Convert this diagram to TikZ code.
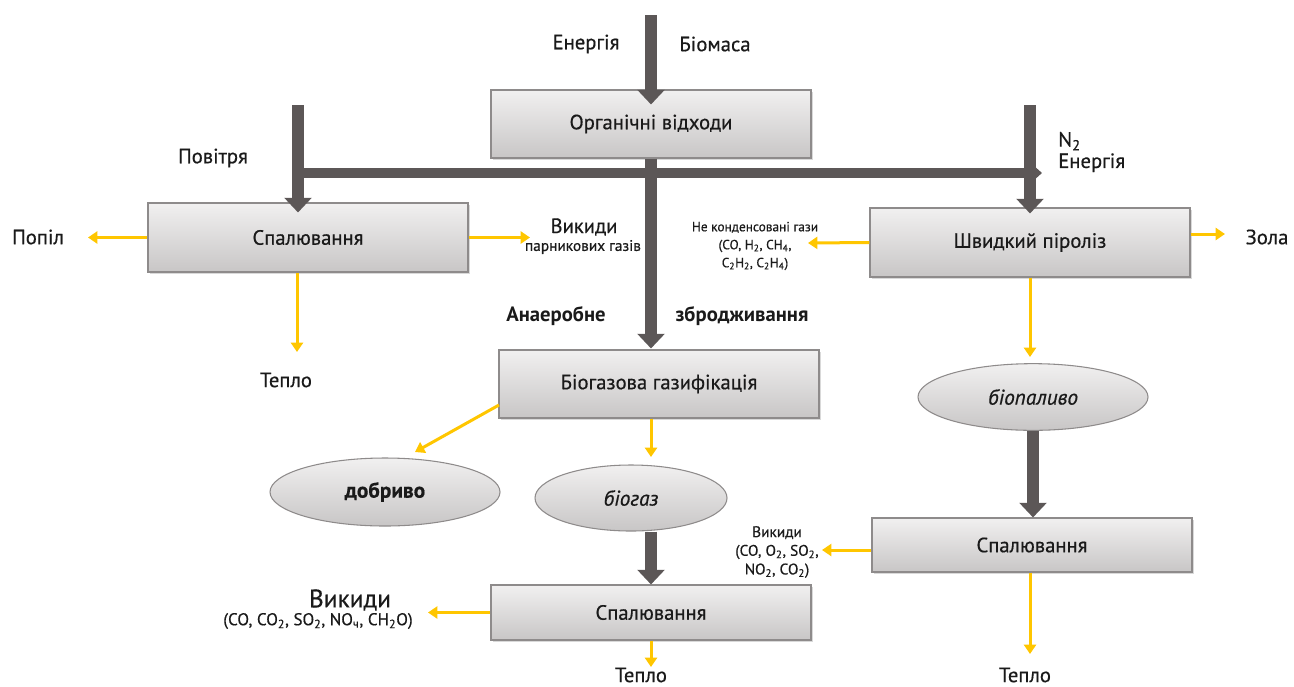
\documentclass[tikz,border=0pt]{standalone}
\usepackage{fontspec}
\setmainfont{PT Sans}
\newfontfamily\dinfont{PT Sans}[FakeBold=0.5]
\usetikzlibrary{arrows.meta,shapes.geometric,shadows,calc}

\definecolor{boxtop}{HTML}{F1F0F0}
\definecolor{boxbot}{HTML}{C8C6C6}
\definecolor{boxedge}{HTML}{8E8B8B}
\definecolor{pipecol}{HTML}{5C5757}
\definecolor{flowcol}{HTML}{FFC600}
\definecolor{txt}{HTML}{1A1A1A}

\newcommand{\sbs}[1]{\textsubscript{#1}}

\tikzset{
  procbox/.style={rectangle, draw=boxedge, line width=0.8pt,
    top color=boxtop, bottom color=boxbot,
    minimum width=240pt, minimum height=51pt, inner sep=0pt,
    drop shadow={shadow xshift=1.2pt, shadow yshift=-1.5pt, opacity=0.3},
    font=\dinfont\fontsize{15.5}{17}\selectfont, text=txt},
  product/.style={ellipse, draw=boxedge, line width=0.8pt,
    top color=boxtop, bottom color=boxbot, inner sep=0pt,
    font=\fontsize{16}{17}\selectfont, text=txt},
  pipe/.style={draw=pipecol, line width=9pt,
    -{Triangle[width=20pt,length=11pt]}},
  flow/.style={draw=flowcol, line width=2.25pt,
    -{Triangle[width=9pt,length=7pt]}},
  lbl/.style={font=\dinfont\fontsize{15.5}{17}\selectfont, text=txt, inner sep=0pt},
  boldlbl/.style={font=\fontsize{15.5}{17}\selectfont\bfseries, text=txt, inner sep=0pt},
  smalllbl/.style={font=\dinfont\fontsize{10}{13.5}\selectfont, text=txt, inner sep=0pt, align=center},
}

\begin{document}
\begin{tikzpicture}[x=0.75pt,y=-0.75pt]
\useasboundingbox (0,0) rectangle (1294,686);

% process boxes
\node[procbox] (org)  at (651,124)   {Органічні відходи};
\node[procbox, minimum height=51.75pt] (spalL) at (308,237.5) {Спалювання};
\node[procbox, minimum height=51.75pt] (pyro)  at (1030,242.5) {Швидкий піроліз};
\node[procbox] (gas)  at (659,384)   {Біогазова газифікація};
\node[procbox, minimum height=40.5pt] (spalR) at (1032,545) {Спалювання};
\node[procbox, minimum height=41.25pt] (spalB) at (651,612.5) {Спалювання};

% products
\node[product, minimum width=172.5pt, minimum height=51pt] (dobr) at (385,492) {\dinfont\bfseries добриво};
\node[product, minimum width=144pt, minimum height=49.5pt] (biog) at (631,498) {\dinfont\itshape біогаз};
\node[product, minimum width=172.5pt, minimum height=50pt] (biop) at (1033,397) {\dinfont\itshape біопаливо};

% free ends of the feed pipes and of the outflows
\coordinate (topin) at (651,15);
\coordinate (airin) at (298,105);
\coordinate (n2in)  at (1030,105);
\coordinate (hL)    at (298,173);
\coordinate (hR)    at (1042,173);
\coordinate (ashEnd)   at (88,237.5);
\coordinate (ghgEnd)   at (530,237.5);
\coordinate (heatL)    at (297,352);
\coordinate (zolaEnd)  at (1225,234);
\coordinate (ncgEnd)   at (808,243);
\coordinate (fuelTip)  at (1030,357);
\coordinate (fertFrom) at (499,405);
\coordinate (fertTip)  at (415,452);
\coordinate (gasTip)   at (651,457);
\coordinate (emRTip)   at (822,550);
\coordinate (heatR)    at (1030,654);
\coordinate (emBTip)   at (428,612.5);
\coordinate (heatB)    at (651,667);

% distribution header
\draw[pipe, line width=7.5pt, -{Triangle[width=12pt,length=7pt]}] (hL) -- (hR);

% feed pipes
\draw[pipe] (topin) -- ($(org.north)+(0,15)$);
\draw[pipe] (airin) -- ($(airin |- spalL.north)+(0,10)$);
\draw[pipe] (n2in) -- ($(pyro.north)+(0,6)$);
\draw[pipe] (org.south) -- ($(org.south |- gas.north)+(0,-1)$);
\draw[pipe] (spalB.north |- biog.south) -- (spalB.north);
\draw[pipe] (biop.south) -- (biop.south |- spalR.north);

% outflows
\draw[flow] (spalL.west) -- (ashEnd);
\draw[flow] (spalL.east) -- (ghgEnd);
\draw[flow] (heatL |- spalL.south) -- (heatL);
\draw[flow] (pyro.east |- zolaEnd) -- (zolaEnd);
\draw[flow] (pyro.west) -- (ncgEnd);
\draw[flow] (fuelTip |- pyro.south) -- (fuelTip);
\draw[flow] (fertFrom) -- (fertTip);
\draw[flow] (gasTip |- gas.south) -- (gasTip);
\draw[flow] (spalR.west |- emRTip) -- (emRTip);
\draw[flow] (heatR |- spalR.south) -- (heatR);
\draw[flow] (spalB.west) -- (emBTip);
\draw[flow] (heatB |- spalB.south) -- (heatB);

% labels
\node[lbl] (lEn)  at (586,44) {Енергія};
\node[lbl] (lBio) at (715,44) {Біомаса};
\node[lbl] (lAir) at (213,158) {Повітря};
\node[lbl, anchor=west, align=left] (lN2) at (1058,152) {N\sbs{2}\\[-1pt]Енергія};
\node[lbl] (lAsh) at (38,237) {Попіл};
\node[lbl] (lGhg1) at (584,227) {Викиди};
\node[smalllbl, font=\dinfont\fontsize{11.5}{14}\selectfont] (lGhg2) at (583,247) {парникових газів};
\node[lbl] (lHeatL) at (286,380) {Тепло};
\node[boldlbl] (lAn1) at (556,316) {Анаеробне};
\node[boldlbl] (lAn2) at (742,316) {збродживання};
\node[smalllbl] (lNcg) at (755,246) {Не конденсовані гази\\(CO, H\sbs{2}, CH\sbs{4},\\C\sbs{2}H\sbs{2}, C\sbs{2}H\sbs{4})};
\node[lbl] (lZola) at (1267,237) {Зола};
\node[smalllbl, font=\dinfont\fontsize{11.5}{14}\selectfont] (lEmR) at (777,552) {Викиди\\(CO, O\sbs{2}, SO\sbs{2},\\NO\sbs{2}, CO\sbs{2})};
\node[lbl] (lHeatR) at (1025,675) {Тепло};
\node[lbl, font=\dinfont\fontsize{19}{21}\selectfont] (lEmB1) at (350,600) {Викиди};
\node[smalllbl, font=\dinfont\fontsize{12.8}{14}\selectfont] (lEmB2) at (318,621) {(CO, CO\sbs{2}, SO\sbs{2}, NO\sbs{ч}, CH\sbs{2}O)};
\node[lbl] (lHeatB) at (641,675) {Тепло};
\end{tikzpicture}
\end{document}
